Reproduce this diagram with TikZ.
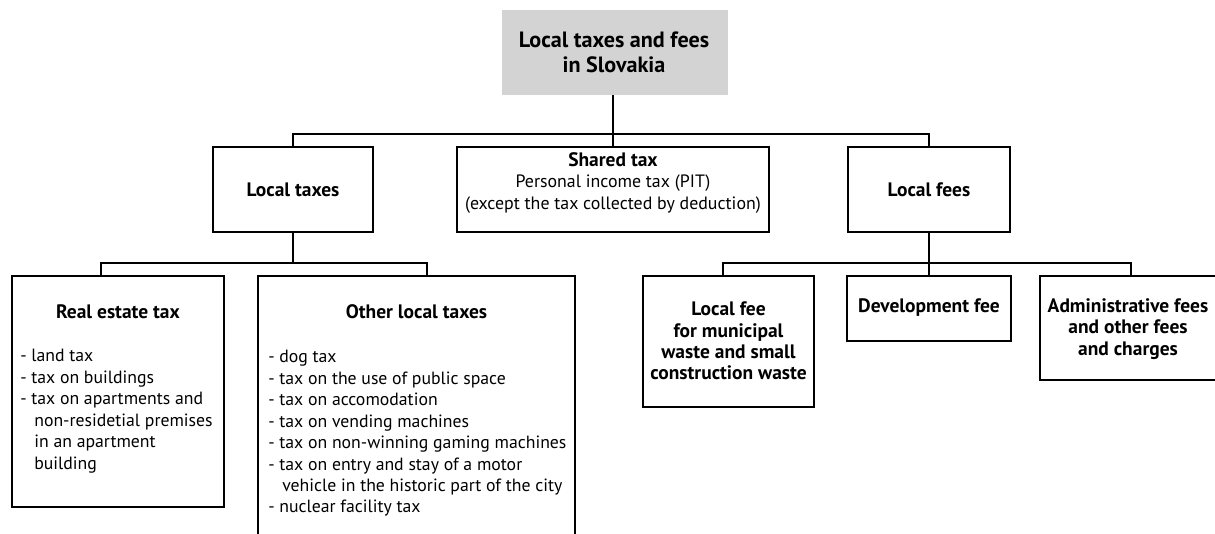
\documentclass[tikz,border=0pt]{standalone}
\usepackage{fontspec}
\setmainfont{PT Sans}
\usetikzlibrary{fit}
\tikzset{
  box/.style={draw=black, line width=1.45pt, inner sep=0pt},
  topbox/.style={fill=boxgray, inner sep=0pt},
  conn/.style={draw=black, line width=1.45pt},
  btxt/.style={font=\fontsize{14.6}{15.9}\selectfont\bfseries, align=center, inner sep=0pt},
  ttxt/.style={font=\fontsize{16.6}{18.8}\selectfont\bfseries, align=center, inner sep=0pt},
  ntxt/.style={font=\fontsize{13.4}{16.1}\selectfont, align=center, inner sep=0pt},
  ltxt/.style={font=\fontsize{13.3}{16.1}\selectfont, align=left, inner sep=0pt, anchor=north west},
}
\definecolor{boxgray}{HTML}{D3D3D3}
\newcommand{\ind}{\hphantom{- }\,}
\begin{document}
\begin{tikzpicture}[x=0.75pt,y=-0.75pt]
\useasboundingbox (0,0) rectangle (1215,533);
\clip (0,0) rectangle (1215,533);
% top
\node[topbox, fit={(502,10) (728,95)}] (top) {};
\node[ttxt] (toptxt) at (614,52.5) {Local taxes and fees\\in Slovakia};
% level 1
\node[box, fit={(213,147) (373,232)}] (lt) {};
\node[btxt] (lttxt) at (lt.center) {Local taxes};
\node[box, fit={(457,147) (769,232)}] (sh) {};
\node[ntxt] (shtxt) at (613,183) {\textbf{\fontsize{14.6}{16.1}\selectfont Shared tax}\\Personal income tax (PIT)\\(except the tax collected by deduction)};
\node[box, fit={(848,147) (1010,232)}] (lf) {};
\node[btxt] (lftxt) at (lf.center) {Local fees};
% level 2 taxes
\node[box, fit={(12,276) (224,507)}] (re) {};
\node[btxt] (retitle) at (118,312) {Real estate tax};
\node[ltxt] (relist) at (20,349) {- land tax\\- tax on buildings\\- tax on apartments and\\\ind non-residetial premises\\\ind in an apartment\\\ind building};
\node[box, fit={(258,276) (575,560)}] (ot) {};
\node[btxt] (ottitle) at (416.5,312) {Other local taxes};
\node[ltxt] (otlist) at (268,350) {- dog tax\\- tax on the use of public space\\- tax on accomodation\\- tax on vending machines\\- tax on non-winning gaming machines\\- tax on entry and stay of a motor\\\ind vehicle in the historic part of the city\\- nuclear facility tax};
% level 2 fees
\node[box, fit={(643,276) (814,407)}] (f1) {};
\node[btxt] (f1txt) at (728.5,341) {Local fee\\for municipal\\waste and small\\construction waste};
\node[box, fit={(847,276) (1011,341)}] (f2) {};
\node[btxt] (f2txt) at (929,308) {Development fee};
\node[box, fit={(1040,276) (1222,380)}] (f3) {};
\node[btxt] (f3txt) at (1128,329) {Administrative fees\\and other fees\\and charges};
% connectors
\coordinate (bus1) at (0,134);
\coordinate (bus2) at (0,263);
\draw[conn] (sh.north |- top.south) -- (sh.north);
\draw[conn] (lt.north) -- (lt.north |- bus1) -- (lf.north |- bus1) -- (lf.north);
\draw[conn] (lt.south) -- (lt.south |- bus2);
\coordinate (reup) at ([xshift=-12.75pt]re.north);
\coordinate (otup) at ([xshift=7.9pt]ot.north);
\draw[conn] (reup) -- (reup |- bus2) -- (otup |- bus2) -- (otup);
\draw[conn] (lf.south) -- (f2.north);
\coordinate (f1up) at ([xshift=-4.1pt]f1.north);
\draw[conn] (f1up) -- (f1up |- bus2) -- (f3.north |- bus2) -- (f3.north);
\end{tikzpicture}
\end{document}
